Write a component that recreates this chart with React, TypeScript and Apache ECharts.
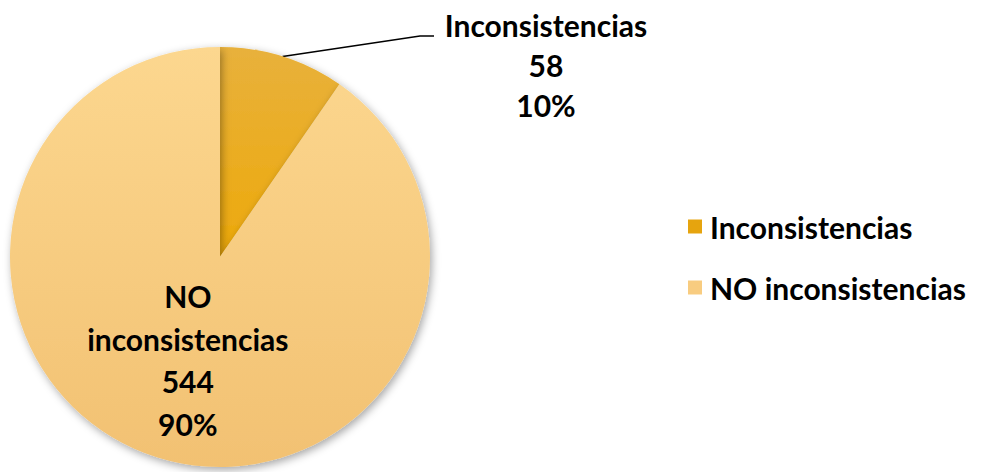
import React, { useEffect, useRef } from "react";
import * as echarts from "echarts";

const categories = ["Inconsistencias", "NO inconsistencias"];
const values = [58, 544];
const percents = ["10%", "90%"];

const FONT = "Lato";

export default function App() {
  const ref = useRef<HTMLDivElement>(null);
  useEffect(() => {
    const chart = echarts.init(ref.current!, null, { renderer: "svg" });
    const fills = [
      new echarts.graphic.LinearGradient(0, 0, 0, 1, [
        { offset: 0, color: "#E8B13C" },
        { offset: 1, color: "#EDA90A" },
      ]),
      new echarts.graphic.LinearGradient(0, 0, 0, 1, [
        { offset: 0, color: "#FCD78F" },
        { offset: 1, color: "#F2C172" },
      ]),
    ];
    const legendColors = ["#E6A40E", "#F8CC80"];
    chart.setOption({
      animation: false,
      backgroundColor: "#ffffff",
      legend: {
        orient: "vertical",
        left: 683,
        top: 206,
        itemWidth: 14,
        itemHeight: 14,
        itemGap: 30,
        icon: "rect",
        data: categories.map((c, i) => ({ name: c, itemStyle: { color: legendColors[i] } })),
        textStyle: {
          fontFamily: FONT,
          fontWeight: "bold",
          fontSize: 30,
          lineHeight: 31,
          color: "#000",
          padding: [0, 0, 0, 3],
        },
      },
      series: [
        {
          type: "pie",
          center: [220, 257],
          radius: 210,
          startAngle: 90,
          clockwise: true,
          data: categories.map((c, i) => ({
            name: c,
            value: values[i],
            itemStyle: { color: fills[i] },
            label:
              i === 0
                ? { position: "outside", lineHeight: 40 }
                : { position: "inside", lineHeight: 42.5, padding: [4, 0, 0, 0] },
          })),
          itemStyle: {
            shadowBlur: 8,
            shadowColor: "rgba(0,0,0,0.35)",
            shadowOffsetX: 2,
            shadowOffsetY: 3,
          },
          label: {
            formatter: (p: any) =>
              `${p.name === "NO inconsistencias" ? "NO\ninconsistencias" : p.name}\n${p.value}\n${percents[p.dataIndex]}`,
            fontFamily: FONT,
            fontWeight: "bold",
            fontSize: 30,
            color: "#000",
            align: "center",
          },
          labelLine: {
            show: true,
            length: 20,
            length2: 20,
            lineStyle: { color: "#000", width: 1.5 },
          },
          labelLayout: (params: any) => {
            if (params.dataIndex !== 0) return {};
            const p0 = params.labelLinePoints ? params.labelLinePoints[0] : [283, 58];
            return {
              x: 546,
              y: 5,
              align: "center",
              verticalAlign: "top",
              labelLinePoints: [p0, [420, 36], [434, 36]],
            };
          },
          emphasis: { disabled: true },
        },
      ],
    });
    return () => chart.dispose();
  }, []);
  return <div ref={ref} style={{ position: "fixed", left: 0, top: 0, width: 981, height: 472 }} />;
}
